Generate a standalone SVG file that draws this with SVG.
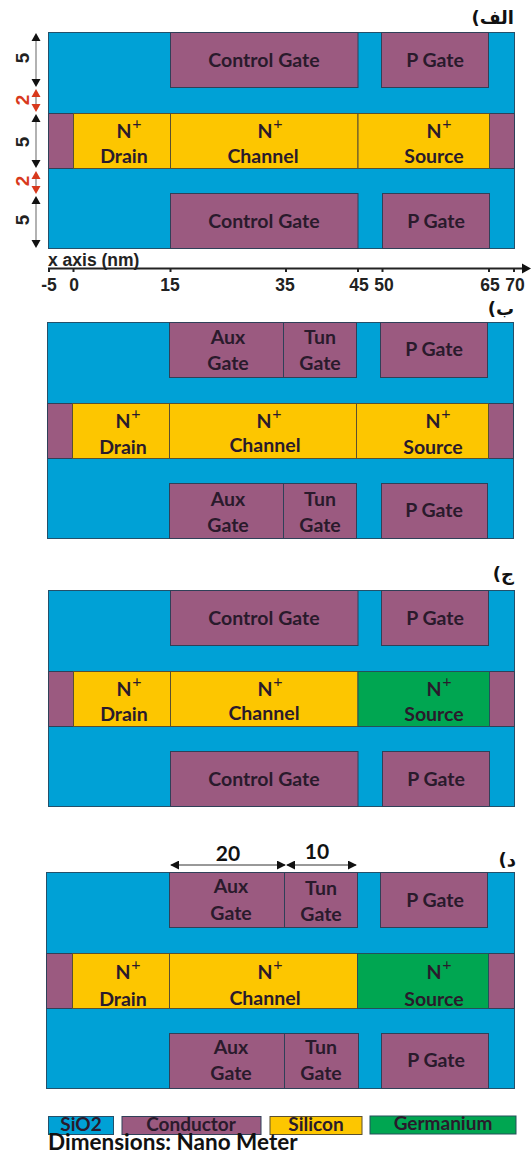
<svg xmlns="http://www.w3.org/2000/svg" width="532" height="1153" viewBox="0 0 532 1153">
<style>
text{font-family:Lato,"Open Sans",sans-serif;font-weight:700;fill:#2a1a2c;text-anchor:middle;font-size:19.500px}
.bg{fill:#00a1d6;stroke:#24506a;stroke-width:1}
.m{fill:#9b5a80;stroke:#2f4058;stroke-width:1}
.y{fill:#fdc600;stroke:#5a5030;stroke-width:1}
.g{fill:#00a651;stroke:#24505a;stroke-width:1}
.a{font-family:"Liberation Sans",Arial,sans-serif;font-size:17.500px;fill:#222}
.s{font-size:16px;font-weight:400}
.f{font-family:"DejaVu Sans",sans-serif;font-size:18px;fill:#111;text-anchor:start;direction:rtl}
.dim{font-family:"Liberation Sans",Arial,sans-serif;font-size:19px;fill:#222}
.r{fill:#d8391c}
.l{stroke:#999;stroke-width:1.500;fill:none}
.k{stroke:#222;stroke-width:2;fill:none}
.t{stroke:#333;stroke-width:1;fill:none}
.lg{font-size:19px}
.big{font-size:21px;fill:#111}
</style>
<defs>
<marker id="ah" viewBox="0 0 10 10" refX="9" refY="5" markerWidth="9" markerHeight="9" orient="auto-start-reverse" markerUnits="userSpaceOnUse"><path d="M0 0L10 5L0 10z" fill="#111"/></marker>
</defs>

<g id="panel-a">
<rect class="bg" x="48.500" y="32.500" width="466" height="216"/>
<g id="a-cg-top"><rect class="m" x="170.500" y="32.500" width="187.500" height="55"/><text x="264" y="66.500">Control Gate</text></g>
<g id="a-pg-top"><rect class="m" x="381.500" y="32.500" width="107" height="55"/><text x="435" y="66.500">P Gate</text></g>
<rect class="m" x="48.500" y="113.500" width="25" height="55"/>
<rect class="m" x="489.500" y="113.500" width="25" height="55"/>
<g id="a-drain"><rect class="y" x="73.500" y="113.500" width="97" height="55"/><text x="124" y="138">N</text><text class="s" x="137" y="129">+</text><text x="124" y="163">Drain</text></g>
<g id="a-channel"><rect class="y" x="170.500" y="113.500" width="187.500" height="55"/><text x="265" y="138">N</text><text class="s" x="278" y="129">+</text><text x="263" y="163">Channel</text></g>
<g id="a-source"><rect class="y" x="358" y="113.500" width="131.500" height="55"/><text x="434" y="138">N</text><text class="s" x="447" y="129">+</text><text x="434" y="163">Source</text></g>
<g id="a-cg-bot"><rect class="m" x="170.500" y="193.500" width="187.500" height="55"/><text x="264" y="228">Control Gate</text></g>
<g id="a-pg-bot"><rect class="m" x="382.500" y="193.500" width="107" height="55"/><text x="436" y="228">P Gate</text></g>
<text class="f" x="514" y="24">الف)</text>
</g>

<g id="dims-a">
<path class="l" d="M36 36V84M36 92V110M36 118V164M36 174V190M36 200V244"/>
<path fill="#111" d="M36 33l-4.500 8h9zM36 87l-4.500-8h9zM36 114l-4.500 8h9zM36 168l-4.500-8h9zM36 196l-4.500 8h9zM36 248l-4.500-8h9z"/>
<path class="r" d="M36 89l-4.500 8h9zM36 112l-4.500-8h9zM36 171l-4.500 8h9zM36 194l-4.500-8h9z"/>
<text class="dim" transform="translate(29 58) rotate(-90)">5</text>
<text class="dim" transform="translate(29 142) rotate(-90)">5</text>
<text class="dim" transform="translate(29 220) rotate(-90)">5</text>
<text class="dim r" style="fill:#d8391c" transform="translate(29 100) rotate(-90)">2</text>
<text class="dim r" style="fill:#d8391c" transform="translate(29 181) rotate(-90)">2</text>
</g>

<g id="axis">
<path class="k" d="M48 268.500H526"/>
<path d="M531 268.500l-9-5v10z" fill="#111"/>
<path class="k" d="M49 268v4M73.500 268v4M170.500 268v4M286 268v4M358 268v4M382.500 268v4M489 268v4M514 268v4"/>
<text class="a" style="text-anchor:start" x="48" y="266">x axis (nm)</text>
<text class="a" x="49" y="291">-5</text><text class="a" x="74" y="291">0</text><text class="a" x="170" y="291">15</text><text class="a" x="285" y="291">35</text><text class="a" x="359" y="291">45</text><text class="a" x="384" y="291">50</text><text class="a" x="490" y="291">65</text><text class="a" x="515" y="291">70</text>
</g>

<g id="panel-b">
<rect class="bg" x="47.500" y="322.500" width="466" height="216"/>
<g id="b-aux-top"><rect class="m" x="169.500" y="322.500" width="114" height="55"/><text x="228" y="344">Aux</text><text x="228" y="370">Gate</text></g>
<g id="b-tun-top"><rect class="m" x="283.500" y="322.500" width="73" height="55"/><text x="320" y="344">Tun</text><text x="320" y="370">Gate</text></g>
<g id="b-pg-top"><rect class="m" x="380.500" y="322.500" width="107" height="55"/><text x="434" y="356">P Gate</text></g>
<rect class="m" x="47.500" y="403.500" width="25" height="55"/>
<rect class="m" x="488.500" y="403.500" width="25" height="55"/>
<g id="b-drain"><rect class="y" x="72.500" y="403.500" width="97" height="55"/><text x="123" y="428">N</text><text class="s" x="136" y="419">+</text><text x="123" y="454">Drain</text></g>
<g id="b-channel"><rect class="y" x="169.500" y="403.500" width="187" height="55"/><text x="264" y="428">N</text><text class="s" x="277" y="419">+</text><text x="265" y="452">Channel</text></g>
<g id="b-source"><rect class="y" x="356.500" y="403.500" width="132" height="55"/><text x="433" y="428">N</text><text class="s" x="446" y="419">+</text><text x="433" y="454">Source</text></g>
<g id="b-aux-bot"><rect class="m" x="169.500" y="483.500" width="114" height="55"/><text x="228" y="506">Aux</text><text x="228" y="532">Gate</text></g>
<g id="b-tun-bot"><rect class="m" x="283.500" y="483.500" width="73" height="55"/><text x="320" y="506">Tun</text><text x="320" y="532">Gate</text></g>
<g id="b-pg-bot"><rect class="m" x="381.500" y="483.500" width="106" height="55"/><text x="434" y="517">P Gate</text></g>
<text class="f" x="514" y="315">ب)</text>
</g>

<g id="panel-c">
<rect class="bg" x="48.500" y="590.500" width="466" height="216"/>
<g id="c-cg-top"><rect class="m" x="170.500" y="590.500" width="187.500" height="55"/><text x="264" y="625">Control Gate</text></g>
<g id="c-pg-top"><rect class="m" x="381.500" y="590.500" width="107" height="55"/><text x="435" y="625">P Gate</text></g>
<rect class="m" x="48.500" y="671.500" width="25" height="55"/>
<rect class="m" x="489.500" y="671.500" width="25" height="55"/>
<g id="c-drain"><rect class="y" x="73.500" y="671.500" width="97" height="55"/><text x="124" y="696">N</text><text class="s" x="137" y="687">+</text><text x="124" y="721">Drain</text></g>
<g id="c-channel"><rect class="y" x="170.500" y="671.500" width="187.500" height="55"/><text x="265" y="696">N</text><text class="s" x="278" y="687">+</text><text x="264" y="720">Channel</text></g>
<g id="c-source"><rect class="g" x="358" y="671.500" width="131.500" height="55"/><text x="434" y="696">N</text><text class="s" x="447" y="687">+</text><text x="434" y="721">Source</text></g>
<g id="c-cg-bot"><rect class="m" x="170.500" y="751.500" width="187.500" height="55"/><text x="264" y="786">Control Gate</text></g>
<g id="c-pg-bot"><rect class="m" x="382.500" y="751.500" width="107" height="55"/><text x="436" y="786">P Gate</text></g>
<text class="f" x="514" y="580">ج)</text>
</g>

<g id="panel-d">
<rect class="bg" x="46.500" y="872.500" width="468" height="216"/>
<g id="d-aux-top"><rect class="m" x="169.500" y="872.500" width="115" height="55"/><text x="231" y="893">Aux</text><text x="231" y="920">Gate</text></g>
<g id="d-tun-top"><rect class="m" x="284.500" y="872.500" width="73" height="55"/><text x="321" y="895">Tun</text><text x="321" y="921">Gate</text></g>
<g id="d-pg-top"><rect class="m" x="380.500" y="872.500" width="107" height="55"/><text x="435" y="907">P Gate</text></g>
<rect class="m" x="46.500" y="953.500" width="26" height="55"/>
<rect class="m" x="488.500" y="953.500" width="26" height="55"/>
<g id="d-drain"><rect class="y" x="72.500" y="953.500" width="97" height="55"/><text x="123" y="979">N</text><text class="s" x="136" y="970">+</text><text x="123" y="1006">Drain</text></g>
<g id="d-channel"><rect class="y" x="169.500" y="953.500" width="188" height="55"/><text x="265" y="979">N</text><text class="s" x="278" y="970">+</text><text x="265" y="1005">Channel</text></g>
<g id="d-source"><rect class="g" x="357.500" y="953.500" width="131" height="55"/><text x="434" y="979">N</text><text class="s" x="447" y="970">+</text><text x="434" y="1006">Source</text></g>
<g id="d-aux-bot"><rect class="m" x="169.500" y="1033.500" width="115" height="55"/><text x="231" y="1054">Aux</text><text x="231" y="1080">Gate</text></g>
<g id="d-tun-bot"><rect class="m" x="284.500" y="1033.500" width="74" height="55"/><text x="321" y="1054">Tun</text><text x="321" y="1080">Gate</text></g>
<g id="d-pg-bot"><rect class="m" x="381.500" y="1033.500" width="107" height="55"/><text x="436" y="1067">P Gate</text></g>
<text class="f" x="516" y="866">د)</text>
</g>

<g id="connectors">
<path class="t" d="M171 865H285" marker-start="url(#ah)" marker-end="url(#ah)"/>
<path class="t" d="M287 865H356" marker-start="url(#ah)" marker-end="url(#ah)"/>
<text class="big" x="228" y="861">20</text>
<text class="big" x="317" y="859">10</text>
</g>

<g id="legend">
<g id="leg-sio2"><rect class="bg" x="48.500" y="1116.500" width="65" height="18"/><text class="lg" x="81" y="1131">SiO2</text></g>
<g id="leg-conductor"><rect class="m" x="122" y="1116.500" width="139" height="18"/><text class="lg" x="191" y="1131">Conductor</text></g>
<g id="leg-silicon"><rect class="y" x="270" y="1116.500" width="92" height="18"/><text class="lg" x="316" y="1131">Silicon</text></g>
<g id="leg-germanium"><rect class="g" x="370" y="1116" width="146" height="18"/><text class="lg" x="443" y="1130">Germanium</text></g>
<text x="48" y="1150" style="text-anchor:start;font-size:22.500px;fill:#111">Dimensions: Nano Meter</text>
</g>
</svg>
